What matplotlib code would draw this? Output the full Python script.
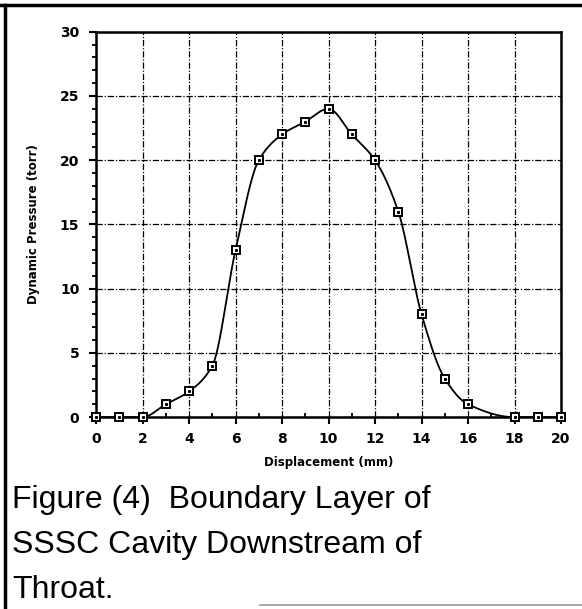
import numpy as np
import matplotlib
matplotlib.use("Agg")
import matplotlib.pyplot as plt
from matplotlib.lines import Line2D
from matplotlib.ticker import MultipleLocator

# boundary layer traverse, downstream of throat
displacement_mm = [0, 1, 2, 3, 4, 5, 6, 7, 8, 9, 10, 11, 12, 13, 14, 15, 16, 18, 19, 20]
pressure_torr = [0, 0, 0, 1, 2, 4, 13, 20, 22, 23, 24, 22, 20, 16, 8, 3, 1, 0, 0, 0]

caption = ["Figure (4)  Boundary Layer of",
           "SSSC Cavity Downstream of",
           "Throat."]


def pchip(x, y, xs):
    """Shape-preserving cubic through the measured points (smooth curve like the plotter)."""
    x = np.asarray(x, float); y = np.asarray(y, float)
    h = np.diff(x); d = np.diff(y) / h
    m = np.zeros_like(y)
    for k in range(1, len(x) - 1):
        if d[k - 1] * d[k] > 0:
            w1 = 2 * h[k] + h[k - 1]; w2 = h[k] + 2 * h[k - 1]
            m[k] = (w1 + w2) / (w1 / d[k - 1] + w2 / d[k])
    m[0], m[-1] = d[0], d[-1]
    idx = np.clip(np.searchsorted(x, xs) - 1, 0, len(h) - 1)
    t = (xs - x[idx]) / h[idx]
    h00 = 2 * t**3 - 3 * t**2 + 1; h10 = t**3 - 2 * t**2 + t
    h01 = -2 * t**3 + 3 * t**2; h11 = t**3 - t**2
    return h00 * y[idx] + h10 * h[idx] * m[idx] + h01 * y[idx + 1] + h11 * h[idx] * m[idx + 1]


fig = plt.figure(figsize=(5.82, 6.09), dpi=100)
ax = fig.add_axes([0.165, 0.315, 0.799, 0.633])

xs = np.linspace(displacement_mm[0], displacement_mm[-1], 800)
ax.plot(xs, pchip(displacement_mm, pressure_torr, xs), color="black", lw=1.3, zorder=3)
ax.plot(displacement_mm, pressure_torr, ls="none", marker="s", ms=5.8, mfc="white",
        mec="black", mew=1.4, zorder=4, clip_on=False)
ax.plot(displacement_mm, pressure_torr, ls="none", marker="s", ms=1.2, color="black",
        zorder=5, clip_on=False)

ax.set_xlim(0, 20); ax.set_ylim(0, 30)
ax.xaxis.set_major_locator(MultipleLocator(2)); ax.xaxis.set_minor_locator(MultipleLocator(1))
ax.yaxis.set_major_locator(MultipleLocator(5)); ax.yaxis.set_minor_locator(MultipleLocator(1))
ax.grid(True, which="major", color="black", lw=0.9, ls=(0, (5, 1.5, 1, 1.5)))
ax.tick_params(axis="both", which="major", labelsize=10, width=1.5, length=5, direction="out")
ax.tick_params(axis="x", which="major", pad=6)
ax.tick_params(axis="y", which="major", pad=7)
ax.tick_params(axis="y", which="minor", width=1.3, length=3, direction="out")
ax.tick_params(axis="x", which="minor", width=1.3, length=3, direction="in")
for lab in ax.get_xticklabels() + ax.get_yticklabels():
    lab.set_fontweight("bold")
for s in ax.spines.values():
    s.set_linewidth(1.8)

ax.set_xlabel("Displacement (mm)", fontsize=8.5, fontweight="bold", labelpad=7)
ax.set_ylabel("Dynamic Pressure (torr)", fontsize=8.5, fontweight="bold", labelpad=14)

for i, line in enumerate(caption):
    fig.text(12 / 582, 1 - (500 + 45 * i) / 609, line, fontsize=23,
             family="Liberation Sans", va="center", ha="left")

# frame: heavy top and left rules, faint bottom rule
fig.add_artist(Line2D([0, 1], [1 - 5 / 609] * 2, color="black", lw=2.5))
fig.add_artist(Line2D([5 / 582] * 2, [0, 1 - 5 / 609], color="black", lw=2.5))
fig.add_artist(Line2D([260 / 582, 1], [1 - 605 / 609] * 2, color="#999999", lw=1.2))

fig.savefig("out.png", facecolor="white")
